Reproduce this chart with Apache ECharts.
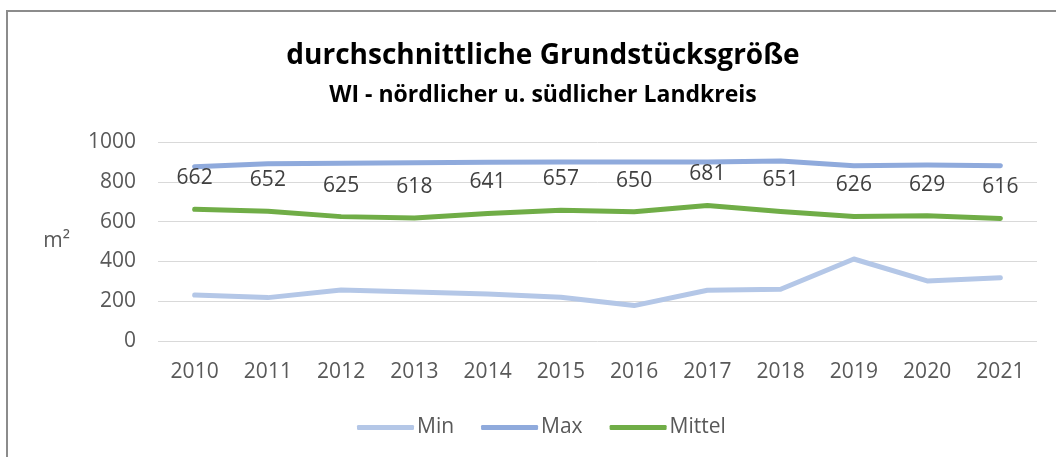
<!DOCTYPE html>
<html lang="de">
<head>
    <meta charset="UTF-8">
    <title>durchschnittliche Grundstücksgröße</title>
    <script src="https://cdn.jsdelivr.net/npm/echarts@6/dist/echarts.min.js"></script>
    <style>
        html, body { margin: 0; padding: 0; background: #fff; }
        #container { width: 1056px; height: 457px; }
    </style>
</head>
<body>
    <div id="container"></div>
    <script>
        var years = ['2010', '2011', '2012', '2013', '2014', '2015', '2016', '2017', '2018', '2019', '2020', '2021'];
        var minWerte = [231, 218, 256, 246, 236, 220, 178, 255, 260, 412, 302, 318];
        var maxWerte = [876, 891, 893, 896, 898, 899, 899, 899, 904, 881, 884, 881];
        var mittelWerte = [662, 652, 625, 618, 641, 657, 650, 681, 651, 626, 629, 616];

        var font = '"Open Sans", "Liberation Sans", sans-serif';
        var myChart = echarts.init(document.getElementById('container'));

        var option = {
            backgroundColor: '#fff',
            animation: false,
            textStyle: { fontFamily: font },
            title: {
                text: 'durchschnittliche Grundstücksgröße',
                subtext: 'WI - nördlicher u. südlicher Landkreis',
                left: 538,
                textAlign: 'center',
                top: 37,
                itemGap: 14,
                textStyle: { fontSize: 28, fontWeight: 'bold', color: '#000', fontFamily: font },
                subtextStyle: { fontSize: 23, fontWeight: 'bold', color: '#000', fontFamily: font }
            },
            legend: {
                data: ['Min', 'Max', 'Mittel'],
                left: 352,
                top: 412,
                icon: 'roundRect',
                itemWidth: 57,
                itemHeight: 5,
                itemGap: 27,
                textStyle: { fontSize: 21, color: '#595959', padding: [0, 0, 0, -2] }
            },
            grid: { left: 158, right: 19, top: 142, bottom: 116 },
            xAxis: {
                type: 'category',
                data: years,
                boundaryGap: true,
                axisLine: { show: false },
                axisTick: { show: false },
                axisLabel: { fontSize: 21, color: '#595959', margin: 21 }
            },
            yAxis: {
                type: 'value',
                min: 0,
                max: 1000,
                interval: 200,
                name: 'm²',
                nameLocation: 'middle',
                nameRotate: 0,
                nameGap: 88,
                nameTextStyle: { fontSize: 21, color: '#595959', padding: [6, 0, 0, 0] },
                axisLabel: {
                    fontSize: 21,
                    color: '#595959',
                    margin: 22,
                    formatter: function (v) { return String(v); }
                },
                splitLine: { lineStyle: { color: '#d9d9d9', width: 1 } }
            },
            series: [{
                name: 'Min',
                type: 'line',
                data: minWerte,
                symbol: 'none',
                color: '#b4c7e7',
                lineStyle: { width: 5, cap: 'round', join: 'round' }
            }, {
                name: 'Max',
                type: 'line',
                data: maxWerte,
                symbol: 'none',
                color: '#8faadc',
                lineStyle: { width: 5, cap: 'round', join: 'round' }
            }, {
                name: 'Mittel',
                type: 'line',
                data: mittelWerte,
                symbol: 'circle',
                symbolSize: 1,
                showSymbol: true,
                color: '#70ad47',
                lineStyle: { width: 5, cap: 'round', join: 'round' },
                label: {
                    show: true,
                    position: 'top',
                    distance: 20,
                    fontSize: 21,
                    color: '#404040'
                },
                labelLayout: { hideOverlap: false }
            }],
            graphic: [{
                type: 'rect',
                shape: { x: 7, y: 11, width: 1060, height: 460 },
                style: { fill: 'none', stroke: '#8c8c8c', lineWidth: 2 },
                silent: true
            }]
        };

        myChart.setOption(option);
    </script>
</body>
</html>
